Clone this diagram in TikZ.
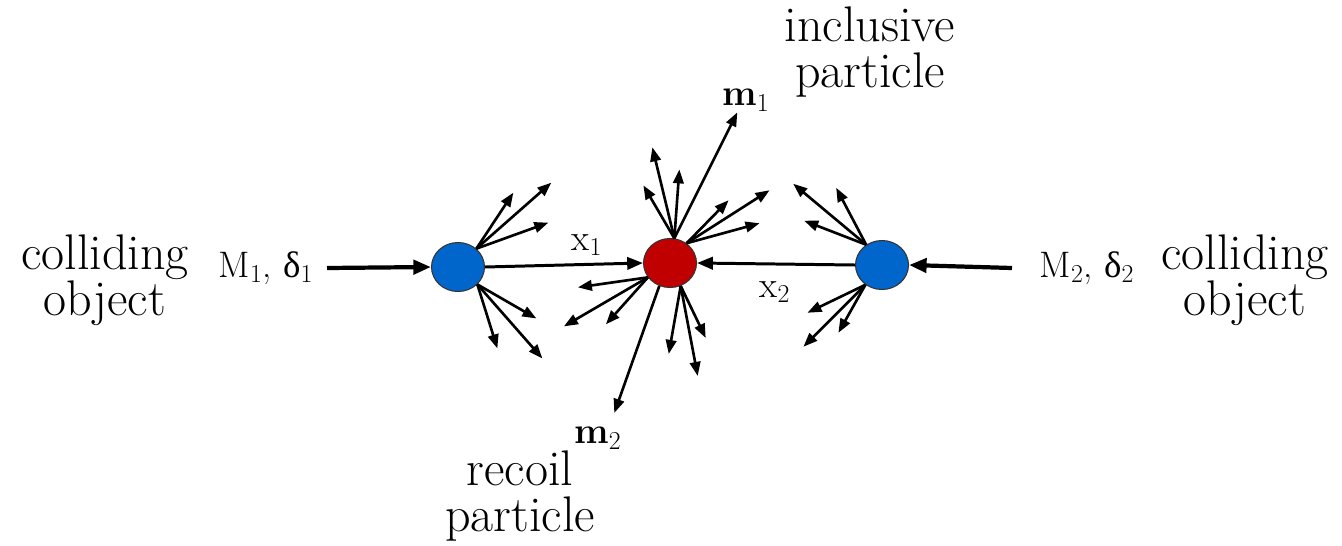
\documentclass[tikz,border=0pt]{standalone}
\usepackage{fontspec}
\setmainfont{Latin Modern Roman}
\newfontfamily\grkfont{Liberation Serif}
\usetikzlibrary{arrows.meta, shapes.geometric}
\definecolor{objblue}{RGB}{0,102,204}
\definecolor{partred}{RGB}{192,0,0}
\newcommand{\dlt}{{\grkfont δ}}

\begin{document}
\begin{tikzpicture}[x=0.02cm,y=-0.02cm,
  body/.style={ellipse,draw=black!80,line width=0.6pt,minimum width=1.06cm,minimum height=0.98cm,inner sep=0pt},
  spray/.style={line width=1.5pt,-{Triangle[length=8pt,width=6pt]}},
  beam/.style={line width=2.4pt,-{Triangle[length=10pt,width=8pt]}},
  link/.style={line width=1.7pt,-{Triangle[length=9pt,width=7pt]}},
  bigtxt/.style={font=\fontsize{28.5}{26.5}\selectfont,align=center,inner sep=1pt},
  smltxt/.style={font=\fontsize{21}{22}\selectfont,inner sep=1pt}]
\useasboundingbox (0,0) rectangle (1342,545);
\node[body,fill=objblue] (lcol) at (458,267) {};
\node[body,fill=objblue] (rcol) at (882,265) {};
\node[body,fill=partred] (incl) at (670,263) {};
\coordinate (lin) at (327,268);
\coordinate (rin) at (1012,268);
\draw[beam] (lin) -- (lcol.west);
\draw[beam] (rin) -- (rcol.east);
\draw[link] (lcol.east) -- (incl.west);
\draw[link] (rcol.west) -- (incl.east);
% sprays
\foreach \d in {(75,-66),(37,-56),(72,-26)} \draw[spray] (lcol.45) -- ++\d;
\foreach \d in {(59,34),(20,64),(65,74)} \draw[spray] (lcol.-42) -- ++\d;
\foreach \d in {(-73,-61),(-30,-57),(-62,-24)} \draw[spray] (rcol.128) -- ++\d;
\foreach \d in {(-58,28),(-27,48),(-62,62)} \draw[spray] (rcol.-130) -- ++\d;
\foreach \d in {(63,-126),(-22,-91),(5,-69),(-31,-53)} \draw[spray] (incl.80) -- ++\d;
\foreach \d in {(42,-43),(83,-53),(73,-20)} \draw[spray] (incl.50) -- ++\d;
\foreach \d in {(-70,10),(-84,49),(-42,47)} \draw[spray] (incl.-147) -- ++\d;
\foreach \d in {(-45,127)} \draw[spray] (incl.-115) -- ++\d;
\foreach \d in {(-12,68),(17,90),(25,52)} \draw[spray] (incl.-65) -- ++\d;
% labels
\node[bigtxt] (lobj) at (105,280) {colliding\\object};
\node[bigtxt] (robj) at (1245,280) {colliding\\object};
\node[bigtxt] (itxt) at (870,52) {inclusive\\particle};
\node[bigtxt] (rtxt) at (520,496) {recoil\\particle};
\node[smltxt] (lmass) at (266,268) {M\textsubscript{1}, \dlt\textsubscript{1}};
\node[smltxt] (rmass) at (1087,268) {M\textsubscript{2}, \dlt\textsubscript{2}};
\node[smltxt] (mone) at (746,100) {\textbf{m}\textsubscript{1}};
\node[smltxt] (mtwo) at (598,438) {\textbf{m}\textsubscript{2}};
\node[smltxt] (xone) at (587,245) {x\textsubscript{1}};
\node[smltxt] (xtwo) at (775,292) {x\textsubscript{2}};
\end{tikzpicture}
\end{document}
